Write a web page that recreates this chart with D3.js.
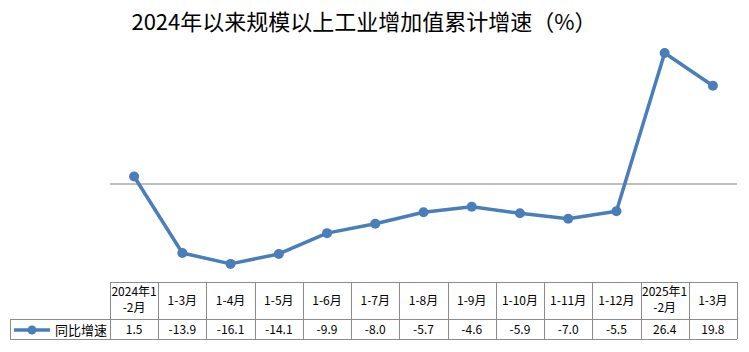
<!DOCTYPE html>
<html><head><meta charset="utf-8">
<script src="https://cdn.jsdelivr.net/npm/d3@7"></script>
<style>body{margin:0;background:#fff}</style>
</head><body>
<svg id="c" width="749" height="352"></svg>
<script>
const title = "2024年以来规模以上工业增加值累计增速（%）";
const categories = [["2024年1","-2月"],["1-3月"],["1-4月"],["1-5月"],["1-6月"],["1-7月"],["1-8月"],["1-9月"],["1-10月"],["1-11月"],["1-12月"],["2025年1","-2月"],["1-3月"]];
const seriesName = "同比增速";
const values = [1.5,-13.9,-16.1,-14.1,-9.9,-8.0,-5.7,-4.6,-5.9,-7.0,-5.5,26.4,19.8];
const valueLabels = ["1.5","-13.9","-16.1","-14.1","-9.9","-8.0","-5.7","-4.6","-5.9","-7.0","-5.5","26.4","19.8"];

const svg = d3.select("#c");
const color = "#4a7ebb";
const font = "'Noto Sans CJK SC','Noto Sans',sans-serif";
const left = 110, right = 737;
const x = d3.scaleBand().domain(d3.range(categories.length)).range([left, right]);
const y = d3.scaleLinear().domain([0, 26.4]).range([184, 53]);

svg.append("text").attr("x", 364).attr("y", 30).attr("text-anchor","middle")
  .attr("font-family", font).attr("font-size", 22).attr("fill","#000").text(title);

// zero line
svg.append("line").attr("x1", left).attr("x2", right).attr("y1", y(0)).attr("y2", y(0))
  .attr("stroke","#7f7f7f").attr("stroke-width",1);

const cx = i => x(i) + x.bandwidth()/2;
svg.append("path").datum(values)
  .attr("d", d3.line().x((d,i)=>cx(i)).y(d=>y(d)))
  .attr("fill","none").attr("stroke",color).attr("stroke-width",3.5).attr("stroke-linejoin","round");
svg.selectAll("circle.pt").data(values).join("circle").attr("class","pt")
  .attr("cx",(d,i)=>cx(i)).attr("cy",d=>y(d)).attr("r",5).attr("fill",color);

// table
const t0 = 282, t1 = 319, t2 = 339, lx = 10;
const g = svg.append("g").attr("stroke","#8c8c8c").attr("stroke-width",1).attr("fill","none");
g.append("line").attr("x1",left).attr("x2",right).attr("y1",t0+0.5).attr("y2",t0+0.5);
g.append("line").attr("x1",lx).attr("x2",right).attr("y1",t1+0.5).attr("y2",t1+0.5);
g.append("line").attr("x1",lx).attr("x2",right).attr("y1",t2+0.5).attr("y2",t2+0.5);
g.append("line").attr("x1",lx+0.5).attr("x2",lx+0.5).attr("y1",t1).attr("y2",t2);
d3.range(categories.length+1).forEach(i=>{
  const xx = Math.round(i<categories.length ? x(i) : right)+0.5;
  g.append("line").attr("x1",xx).attr("x2",xx).attr("y1",t0).attr("y2",t2);
});
categories.forEach((c,i)=>{
  const tx = svg.append("text").attr("x",cx(i)).attr("text-anchor","middle")
    .attr("font-family",font).attr("font-size",12).attr("fill","#000");
  if(c.length===1){ tx.attr("y",(t0+t1)/2+4).text(c[0]); }
  else { c.forEach((s,k)=>tx.append("tspan").attr("x",cx(i)).attr("y",t0+14+k*16).text(s)); }
});
valueLabels.forEach((v,i)=>{
  svg.append("text").attr("x",cx(i)).attr("y",(t1+t2)/2+5).attr("text-anchor","middle")
    .attr("font-family",font).attr("font-size",12).attr("fill","#000").text(v);
});
// legend
const ly = (t1+t2)/2+1;
svg.append("line").attr("x1",14).attr("x2",50).attr("y1",ly).attr("y2",ly).attr("stroke",color).attr("stroke-width",3.5);
svg.append("circle").attr("cx",32).attr("cy",ly).attr("r",4.5).attr("fill",color);
svg.append("text").attr("x",55).attr("y",ly+5).attr("font-family",font).attr("font-size",13).attr("fill","#000").text(seriesName);
</script>
</body></html>
